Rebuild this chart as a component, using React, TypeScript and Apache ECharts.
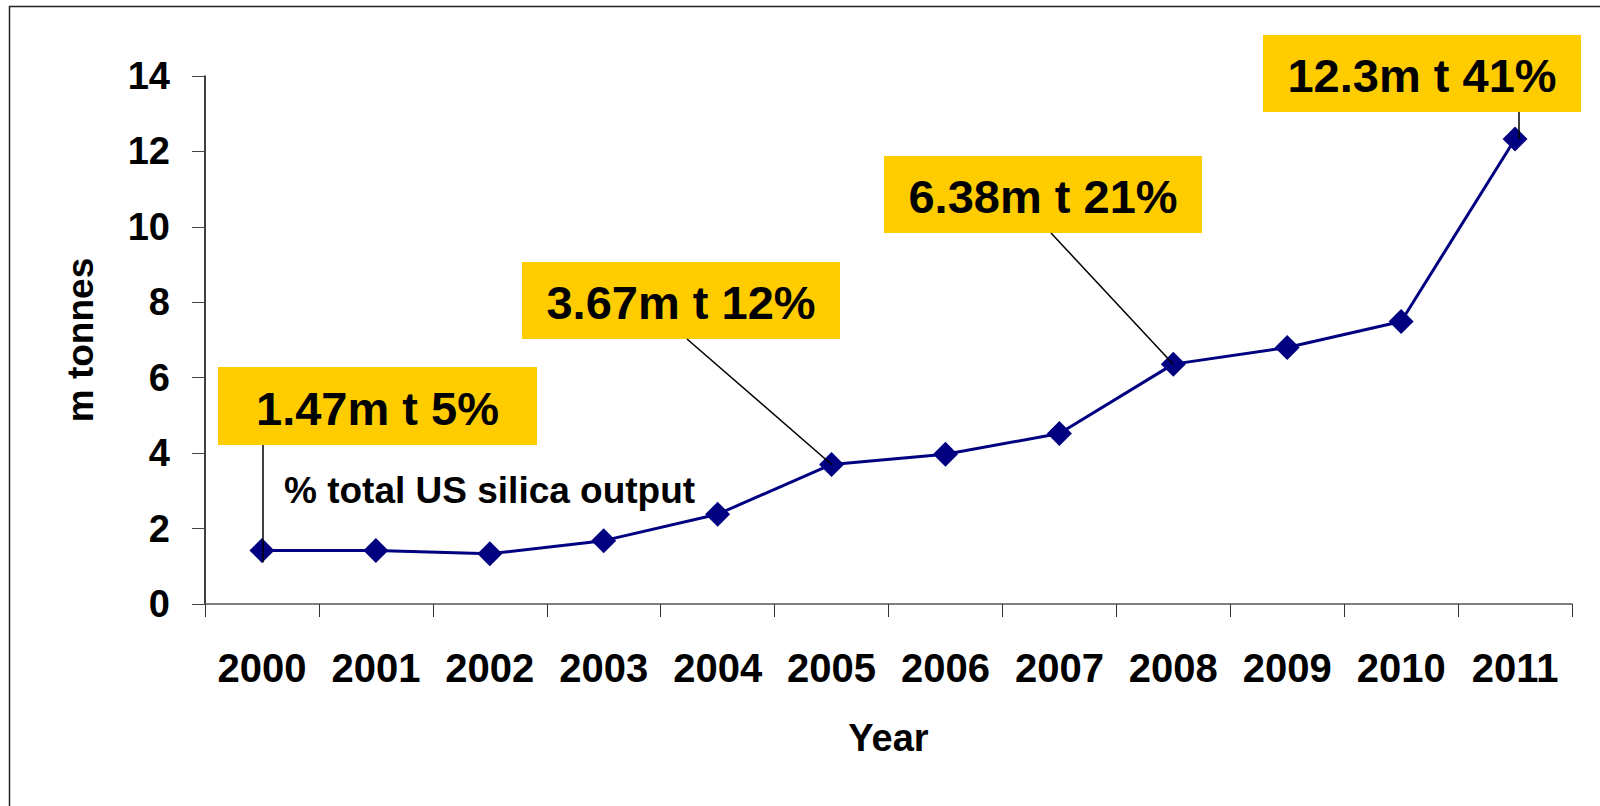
import React, { useEffect, useRef } from "react";
import * as echarts from "echarts";

const years = ["2000", "2001", "2002", "2003", "2004", "2005", "2006", "2007", "2008", "2009", "2010", "2011"];
const tonnes = [1.42, 1.42, 1.33, 1.68, 2.38, 3.7, 3.97, 4.52, 6.36, 6.8, 7.49, 12.33];
const yMin = 0;
const yMax = 14;
const yInterval = 2;
const calloutIndex = [0, 5, 8, 11];
const calloutText = ["1.47m t 5%", "3.67m t 12%", "6.38m t 21%", "12.3m t 41%"];
const noteText = "% total US silica output";
const yTitle = "m tonnes";
const xTitle = "Year";

const FONT = '"Liberation Sans", Arial, Helvetica, sans-serif';

// callout box layout (pixels)
const boxLayout = [
  { x: 218, y: 367, w: 319, h: 78, ax: 263, vertical: true, past: 12 },
  { x: 522, y: 262, w: 318, h: 77, ax: 687, vertical: false, past: 0 },
  { x: 884, y: 156, w: 318, h: 77, ax: 1051, vertical: false, past: 0 },
  { x: 1263, y: 35, w: 318, h: 77, ax: 1519, vertical: true, past: 0 },
];

export default function App() {
  const ref = useRef<HTMLDivElement>(null);
  useEffect(() => {
    document.body.style.margin = "0";
    const chart = echarts.init(ref.current!, undefined, { renderer: "svg" });
    chart.setOption({
      animation: false,
      backgroundColor: "#ffffff",
      grid: { left: 205, right: 28, top: 76, bottom: 202, containLabel: false },
      xAxis: {
        type: "category",
        data: years,
        boundaryGap: true,
        name: xTitle,
        nameLocation: "middle",
        nameGap: 115,
        nameTextStyle: { fontFamily: FONT, fontWeight: "bold", fontSize: 38, color: "#000" },
        axisLine: { lineStyle: { color: "#555", width: 1.5 } },
        axisTick: { show: true, length: 13, inside: false, lineStyle: { color: "#333", width: 1 } },
        axisLabel: { interval: 0, margin: 44, fontFamily: FONT, fontWeight: "bold", fontSize: 40, color: "#000" },
        splitLine: { show: false },
      },
      yAxis: {
        type: "value",
        min: yMin,
        max: yMax,
        interval: yInterval,
        name: yTitle,
        nameLocation: "middle",
        nameGap: 106,
        nameTextStyle: { fontFamily: FONT, fontWeight: "bold", fontSize: 37, color: "#000" },
        axisLine: { show: true, lineStyle: { color: "#000", width: 1.5 } },
        axisTick: { show: true, length: 13, lineStyle: { color: "#444", width: 1 } },
        axisLabel: { margin: 35, fontFamily: FONT, fontWeight: "bold", fontSize: 38, color: "#000" },
        splitLine: { show: false },
      },
      series: [
        {
          type: "line",
          data: tonnes,
          symbol: "diamond",
          symbolSize: 25,
          lineStyle: { color: "#000080", width: 3 },
          itemStyle: { color: "#000080" },
          z: 3,
        },
      ],
    });

    const elements: any[] = [
      { type: "line", shape: { x1: 9.5, y1: 6, x2: 9.5, y2: 806 }, style: { stroke: "#222", lineWidth: 1.5 }, silent: true },
      { type: "line", shape: { x1: 9, y1: 6.5, x2: 1600, y2: 6.5 }, style: { stroke: "#222", lineWidth: 1.5 }, silent: true },
      {
        type: "text",
        x: 284,
        y: 490,
        style: { text: noteText, font: `bold 37px ${FONT}`, fill: "#000", textAlign: "left", textVerticalAlign: "middle" },
        z: 10,
      },
    ];
    calloutIndex.forEach((idx, i) => {
      const b = boxLayout[i];
      const p = chart.convertToPixel({ seriesIndex: 0 }, [idx, tonnes[idx]]) as number[];
      elements.push({
        type: "rect",
        shape: { x: b.x, y: b.y, width: b.w, height: b.h },
        style: { fill: "#FFCC00" },
        z: 10,
      });
      elements.push({
        type: "text",
        x: b.x + b.w / 2,
        y: b.y + b.h / 2 + 2,
        style: { text: calloutText[i], font: `bold 47px ${FONT}`, fill: "#000", textAlign: "center", textVerticalAlign: "middle" },
        z: 11,
      });
      const ex = b.vertical ? b.ax : p[0];
      const ey = p[1] + b.past;
      elements.push({
        type: "line",
        shape: { x1: b.ax, y1: b.y + b.h, x2: ex, y2: ey },
        style: { stroke: "#000", lineWidth: 1.5 },
        z: 12,
      });
    });
    chart.setOption({ graphic: { elements } });
    return () => chart.dispose();
  }, []);
  return <div ref={ref} style={{ position: "absolute", left: 0, top: 0, width: 1600, height: 806 }} />;
}
